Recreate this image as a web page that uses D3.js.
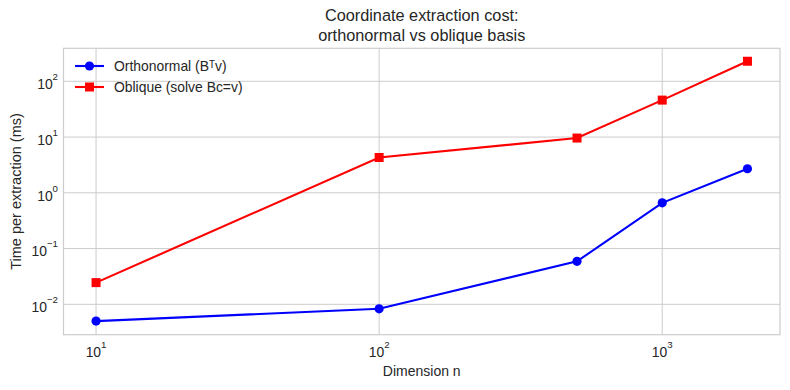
<!DOCTYPE html>
<html><head><meta charset="utf-8">
<script src="https://cdn.jsdelivr.net/npm/d3@7/dist/d3.min.js"></script>
<style>body{margin:0;background:#fff}text{font-family:"Liberation Sans",Arial,sans-serif;fill:#262626}</style>
</head><body><svg id="c" width="790" height="390"></svg>
<script>
const dims = [10, 100, 500, 1000, 2000];
const orthoTimes = [0.005, 0.0083, 0.059, 0.66, 2.7];
const obliqueTimes = [0.0245, 4.3, 9.6, 46, 229];
const xTicks = [10, 100, 1000];
const yTicks = [0.01, 0.1, 1, 10, 100];
const seriesNames = ["Orthonormal (Bᵀv)", "Oblique (solve Bc=v)"];
const titleLines = ["Coordinate extraction cost:", "orthonormal vs oblique basis"];

const svg = d3.select("#c");
const L = 63.5, R = 780, T = 48.3, B = 334.7;
const x = d3.scaleLog().domain([Math.pow(10, 0.885), Math.pow(10, 3.416)]).range([L, R]);
const y = d3.scaleLog().domain([Math.pow(10, -2.545), Math.pow(10, 2.592)]).range([B, T]);

// grid
const g = svg.append("g");
g.selectAll(".gx").data(xTicks).join("line")
  .attr("x1", d => x(d)).attr("x2", d => x(d)).attr("y1", T).attr("y2", B)
  .attr("stroke", "#cccccc").attr("stroke-width", 1);
g.selectAll(".gy").data(yTicks).join("line")
  .attr("y1", d => y(d)).attr("y2", d => y(d)).attr("x1", L).attr("x2", R)
  .attr("stroke", "#cccccc").attr("stroke-width", 1);
svg.append("rect").attr("x", L).attr("y", T).attr("width", R - L).attr("height", B - T)
  .attr("fill", "none").attr("stroke", "#cccccc").attr("stroke-width", 1.2);

function pow10Label(sel, e) {
  sel.append("tspan").text("10");
  sel.append("tspan").attr("dy", "-9").attr("font-size", "9.7px").text(e < 0 ? "\u2212" + (-e) : String(e));
}
// x tick labels
xTicks.forEach(t => {
  const tx = svg.append("text").attr("x", x(t)).attr("y", 357).attr("text-anchor", "middle").attr("font-size", "13.9px");
  pow10Label(tx, Math.round(Math.log10(t)));
});
// y tick labels
yTicks.forEach(t => {
  const ty = svg.append("text").attr("x", 58).attr("y", y(t) + 7.7).attr("text-anchor", "end").attr("font-size", "13.9px");
  pow10Label(ty, Math.round(Math.log10(t)));
});

svg.append("text").attr("x", (L + R) / 2).attr("y", 376).attr("text-anchor", "middle").attr("font-size", "14px").text("Dimension n");
svg.append("text").attr("transform", `translate(20.5,${(T + B) / 2}) rotate(-90)`).attr("text-anchor", "middle").attr("font-size", "14.5px").text("Time per extraction (ms)");
titleLines.forEach((t, i) => svg.append("text").attr("x", (L + R) / 2).attr("y", 21 + i * 19.5).attr("text-anchor", "middle").attr("font-size", "16.3px").text(t));

const line = d3.line().x(d => x(d[0])).y(d => y(d[1]));
const orthoData = dims.map((d, i) => [d, orthoTimes[i]]);
const oblData = dims.map((d, i) => [d, obliqueTimes[i]]);
svg.append("path").attr("d", line(orthoData)).attr("fill", "none").attr("stroke", "#0000ff").attr("stroke-width", 2.1);
svg.append("path").attr("d", line(oblData)).attr("fill", "none").attr("stroke", "#ff0000").attr("stroke-width", 2.1);
svg.selectAll(".po").data(orthoData).join("circle").attr("cx", d => x(d[0])).attr("cy", d => y(d[1])).attr("r", 4.6).attr("fill", "#0000ff");
svg.selectAll(".pb").data(oblData).join("rect").attr("x", d => x(d[0]) - 4.5).attr("y", d => y(d[1]) - 4.5).attr("width", 9).attr("height", 9).attr("fill", "#ff0000");

// legend
const leg = [{c: "#0000ff", m: "c"}, {c: "#ff0000", m: "s"}];
leg.forEach((l, i) => {
  const yy = 66 + i * 21;
  svg.append("line").attr("x1", 75).attr("x2", 104).attr("y1", yy).attr("y2", yy).attr("stroke", l.c).attr("stroke-width", 2.1);
  if (l.m === "c") svg.append("circle").attr("cx", 89.5).attr("cy", yy).attr("r", 4.6).attr("fill", l.c);
  else svg.append("rect").attr("x", 85).attr("y", yy - 4.5).attr("width", 9).attr("height", 9).attr("fill", l.c);
  svg.append("text").attr("x", 114).attr("y", yy + 5).attr("font-size", "13.9px").text(seriesNames[i]);
});
</script></body></html>
